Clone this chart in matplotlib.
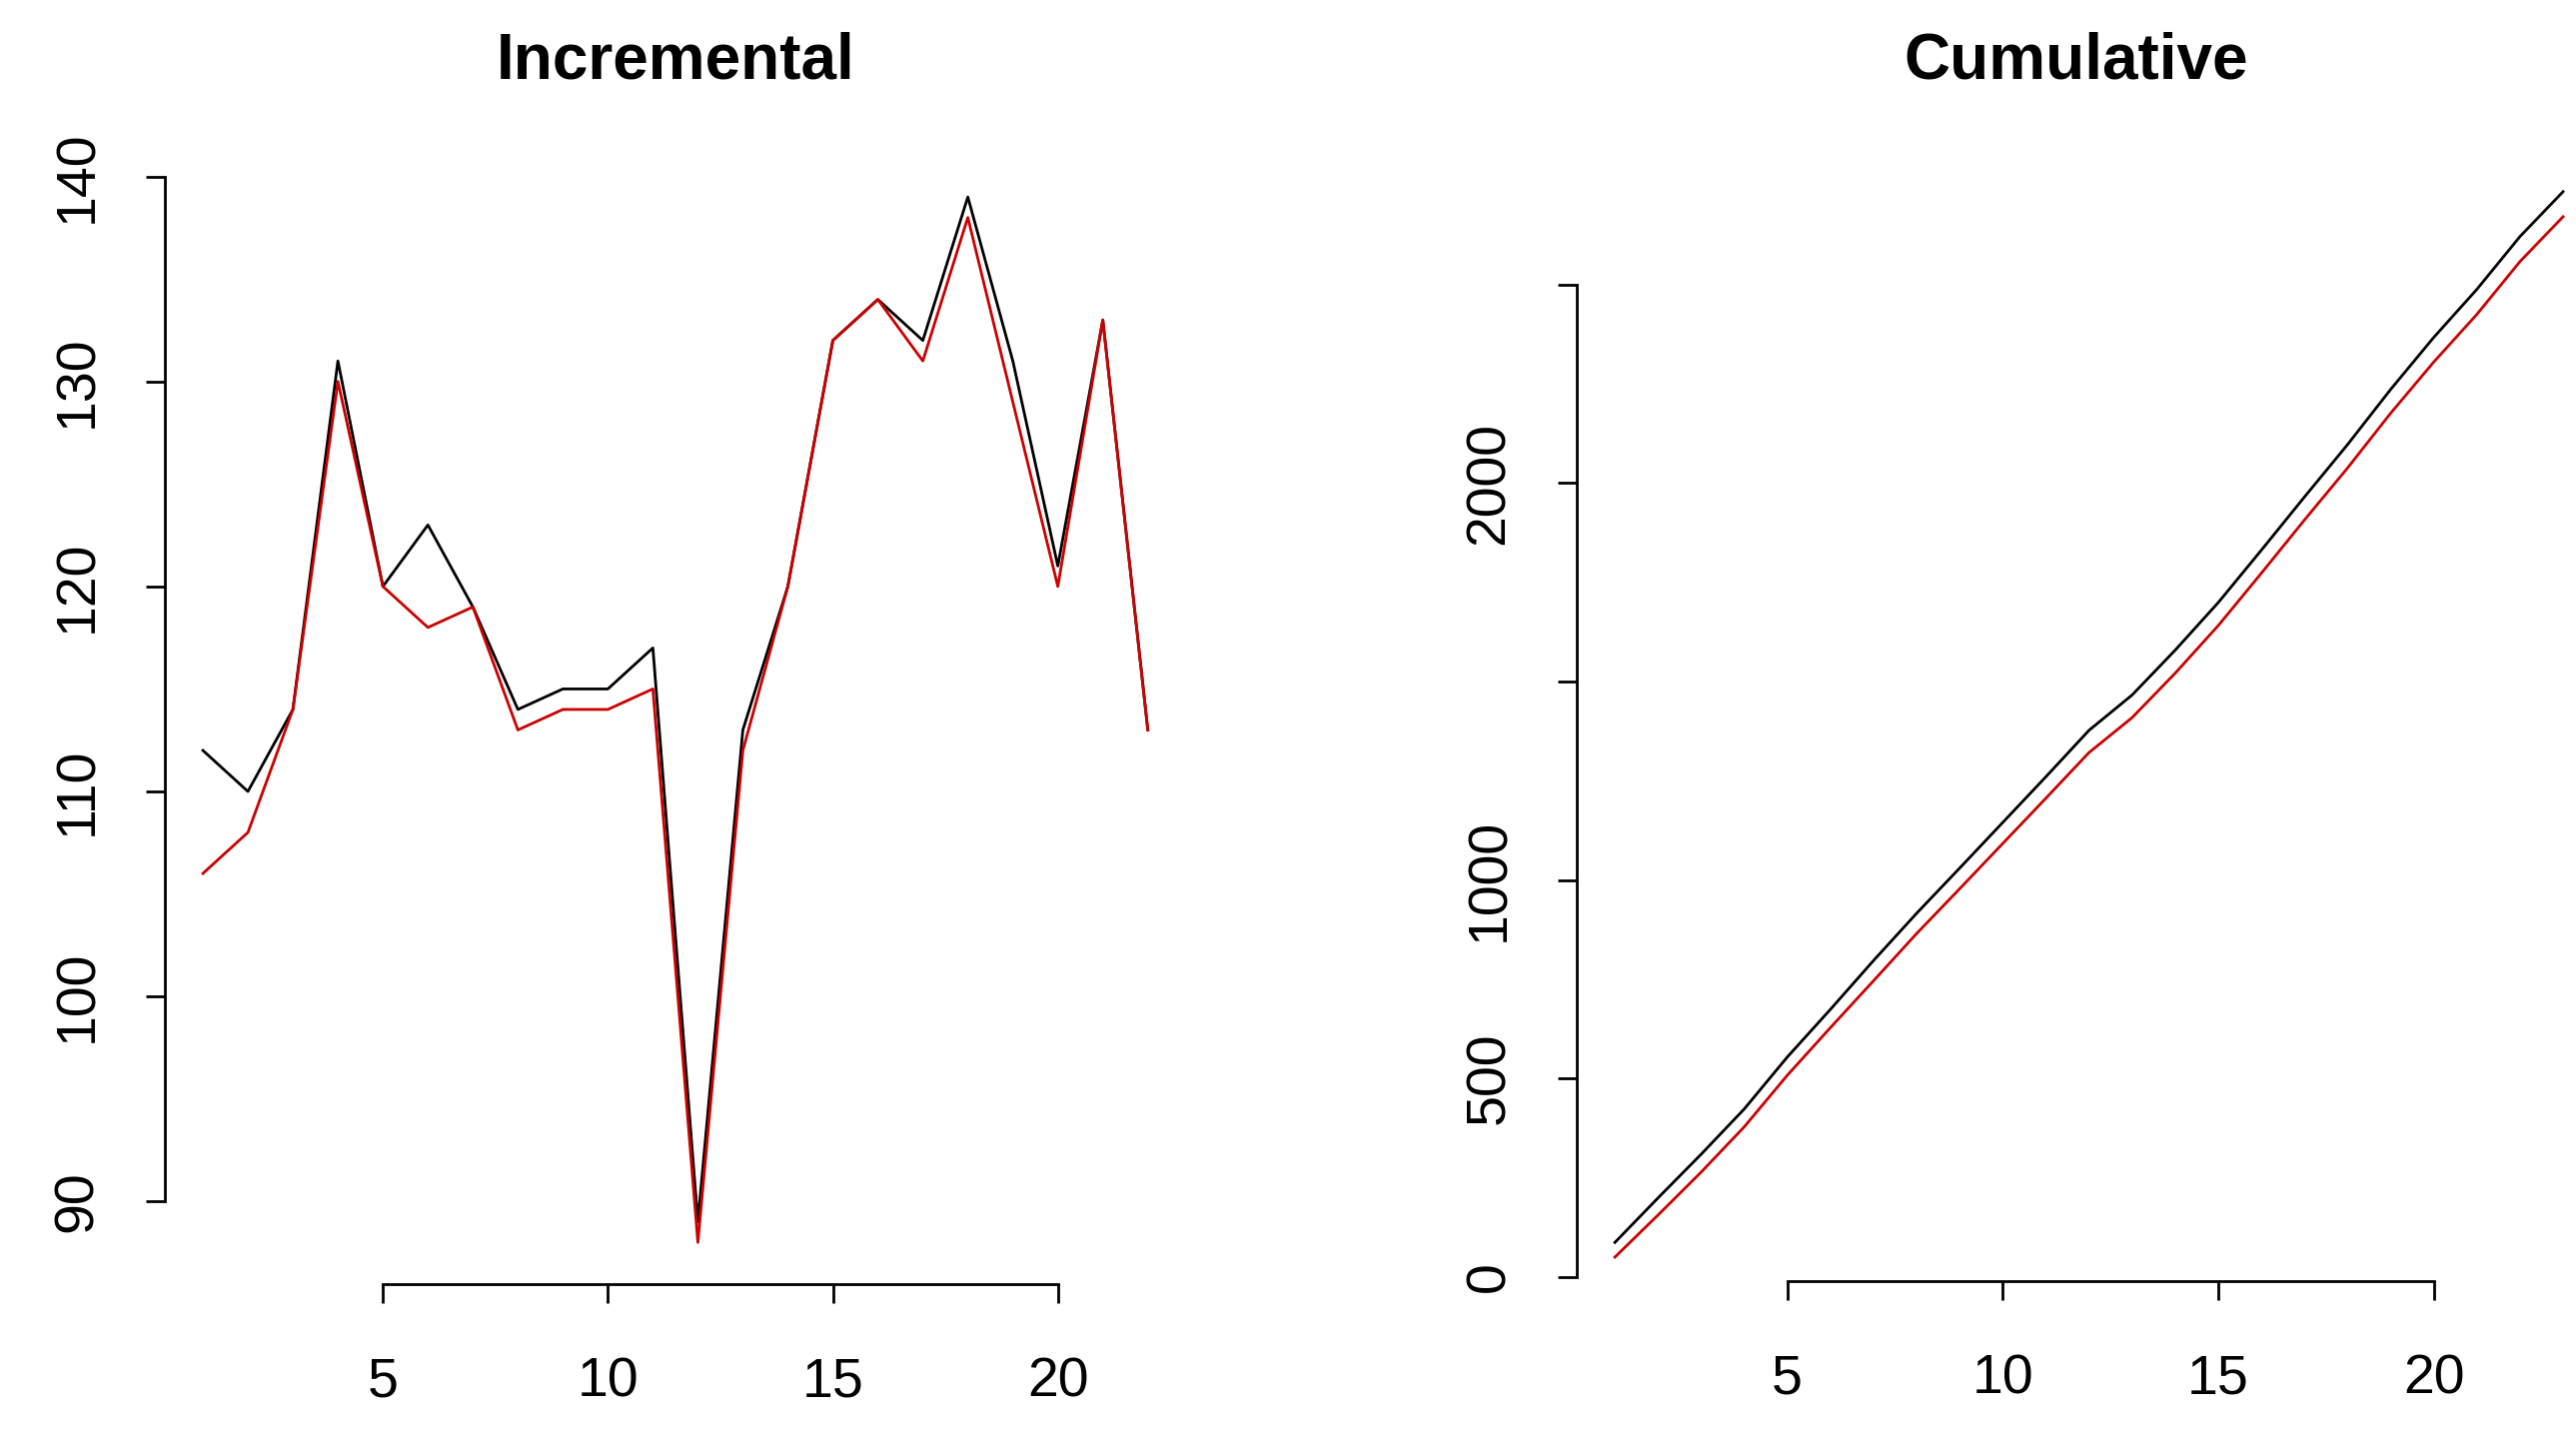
import numpy as np
import matplotlib.pyplot as plt

plt.rcParams["font.family"] = ["Liberation Sans", "DejaVu Sans"]

# incremental values per period, black and red series
steps = np.arange(1, 23)
inc_black = [112, 110, 114, 131, 120, 123, 119, 114, 115, 115, 117, 89,
             113, 120, 132, 134, 132, 139, 131, 121, 133, 113]
inc_red = [106, 108, 114, 130, 120, 118, 119, 113, 114, 114, 115, 88,
           112, 120, 132, 134, 131, 138, 129, 120, 133, 113]
start_black = 87
start_red = 50

cum_steps = np.arange(1, 24)
cum_black = np.cumsum([start_black] + inc_black)
cum_red = np.cumsum([start_red] + inc_red)

fig = plt.figure(figsize=(25.78, 14.47), dpi=100)
W, H = 1560, 876


def box(l, t, r, b):
    return [l / W, 1 - b / H, (r - l) / W, (b - t) / H]


def r_style(ax, xt, yt, ylabels=None):
    for s in ["top", "right"]:
        ax.spines[s].set_visible(False)
    ax.spines["left"].set_bounds(yt[0], yt[-1])
    ax.spines["bottom"].set_bounds(xt[0], xt[-1])
    for s in ["left", "bottom"]:
        ax.spines[s].set_linewidth(2)
    ax.set_xticks(xt)
    ax.set_yticks(yt)
    if ylabels is not None:
        ax.set_yticklabels(ylabels)
    ax.tick_params(labelsize=40, width=2, length=14)
    ax.tick_params(axis="x", pad=38)
    ax.tick_params(axis="y", pad=30)
    for lab in ax.get_yticklabels():
        lab.set_rotation(90)
        lab.set_va("center")


ax1 = fig.add_axes(box(100, 94, 718, 778))
ax1.plot(steps, inc_black, color="black", lw=2)
ax1.plot(steps, inc_red, color="#cc0000", lw=2)
ax1.set_xlim(0.16, 22.84)
ax1.set_ylim(85.96, 141.04)
r_style(ax1, [5, 10, 15, 20], [90, 100, 110, 120, 130, 140])
ax1.spines["bottom"].set_position(("outward", 0))
ax1.set_title("Incremental", fontsize=46, fontweight="bold", pad=55)

ax2 = fig.add_axes(box(955, 94, 1560, 776))
ax2.plot(cum_steps, cum_black, color="black", lw=2)
ax2.plot(cum_steps, cum_red, color="#cc0000", lw=2)
ax2.set_xlim(0.12, 23.3)
ax2.set_ylim(-10, 2826)
r_style(ax2, [5, 10, 15, 20], [0, 500, 1000, 1500, 2000, 2500],
        ["0", "500", "1000", "", "2000", ""])
ax2.set_title("Cumulative", fontsize=46, fontweight="bold", pad=55)

fig.savefig("out.png", dpi=100)
